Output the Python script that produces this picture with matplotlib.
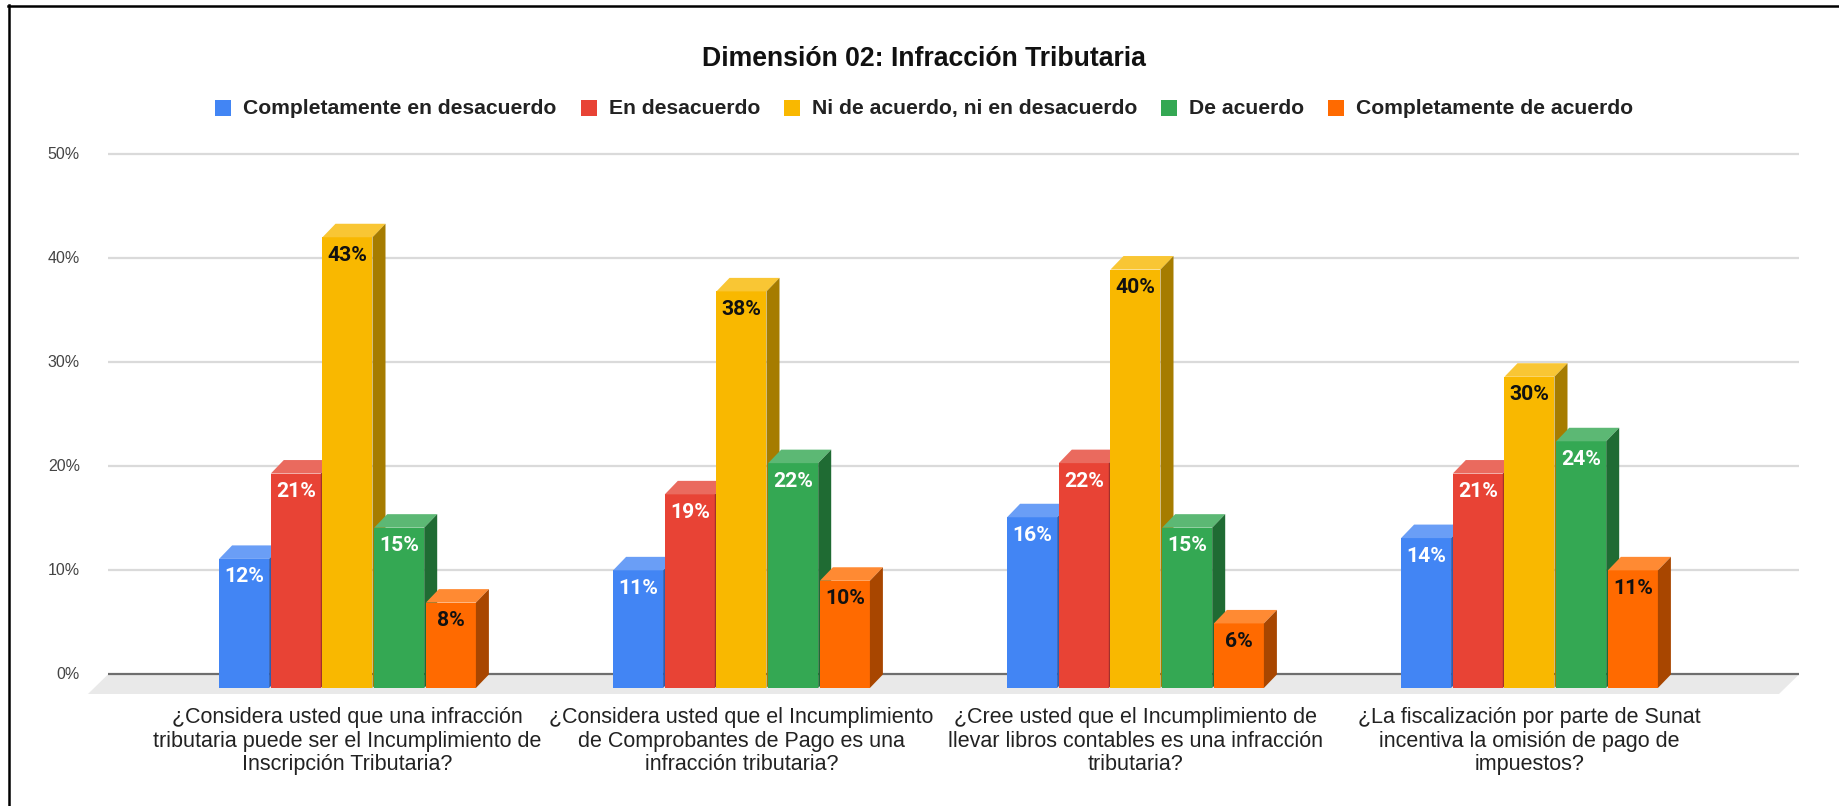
import numpy as np
import matplotlib.pyplot as plt
from matplotlib.patches import Polygon, Rectangle

plt.rcParams['font.family'] = ['Liberation Sans', 'DejaVu Sans']

title = "Dimensión 02: Infracción Tributaria"
series = ["Completamente en desacuerdo", "En desacuerdo",
          "Ni de acuerdo, ni en desacuerdo", "De acuerdo",
          "Completamente de acuerdo"]
questions = [
    "¿Considera usted que una infracción\ntributaria puede ser el Incumplimiento de\nInscripción Tributaria?",
    "¿Considera usted que el Incumplimiento\nde Comprobantes de Pago es una\ninfracción tributaria?",
    "¿Cree usted que el Incumplimiento de\nllevar libros contables es una infracción\ntributaria?",
    "¿La fiscalización por parte de Sunat\nincentiva la omisión de pago de\nimpuestos?",
]
# percentages per question
comp_desacuerdo = [12.4, 11.3, 16.4, 14.4]
en_desacuerdo = [20.6, 18.6, 21.6, 20.6]
ni_ni = [43.3, 38.1, 40.2, 29.9]
de_acuerdo = [15.4, 21.6, 15.4, 23.7]
comp_acuerdo = [8.2, 10.3, 6.2, 11.3]
yticks = [0, 10, 20, 30, 40, 50]

values = [comp_desacuerdo, en_desacuerdo, ni_ni, de_acuerdo, comp_acuerdo]

front_col = ['#4285F4', '#E84335', '#F9B800', '#34A853', '#FF6A00']
top_col = ['#6A9EF6', '#EA6A5E', '#F9C634', '#5CB874', '#FF8A33']
side_col = ['#2E5DAE', '#A3302A', '#A67C00', '#1F6B33', '#A84600']
lab_col = ['white', 'white', '#111111', 'white', '#111111']

W, H = 1840, 806
fig = plt.figure(figsize=(W / 100, H / 100), dpi=100)
fig.patch.set_facecolor('white')

# axes: x in question units (394 px each), y in percent on the back wall
ax = fig.add_axes([71.7 / W, (H - 705.7) / H, (1805.3 - 71.7) / W, (705.7 - 133.2) / H])
ax.set_xlim(-0.7, 3.7)
ax.set_ylim(-3, 52)
ax.axis('off')

px_x = 394.0   # px per question
px_y = 10.41   # px per percent
dx = 13 / px_x     # depth offset
dy = 13.5 / px_y
bw = 50 / px_x
pitch = 51.7 / px_x

wall_l, wall_r = -0.608, 3.684
fdx, fdy = 20 / px_x, 19.5 / px_y

# floor
ax.add_patch(Polygon([(wall_l, 0), (wall_r, 0), (wall_r - fdx, -fdy), (wall_l - fdx, -fdy)],
                     closed=True, facecolor='#e9e9e9', edgecolor='none', zorder=0.5))
ax.hlines(yticks[1:], wall_l, wall_r, color='#dadada', lw=1.6, zorder=0.6)
ax.hlines(0, wall_l, wall_r, color='#6e6e6e', lw=1.6, zorder=0.7)

for t in yticks:
    ax.text((80 - 347.5) / px_x, t, f"{t}%", ha='right', va='center',
            fontsize=11.5, color='#444444')

z = 2.0
for j in range(len(questions)):
    for i, vals in enumerate(values):
        v = vals[j]
        c = j + (i - 2) * pitch
        x0, x1 = c - bw / 2, c + bw / 2
        y0, y1 = -dy, v - dy
        ax.bar(c, v, width=bw, bottom=-dy, color=front_col[i], linewidth=0, zorder=z)
        ax.add_patch(Polygon([(x0, y1), (x1, y1), (x1 + dx, v), (x0 + dx, v)],
                             closed=True, facecolor=top_col[i], edgecolor='none', zorder=z))
        ax.add_patch(Polygon([(x1, y0), (x1 + dx, 0), (x1 + dx, v), (x1, y1)],
                             closed=True, facecolor=side_col[i], edgecolor='none', zorder=z))
        ax.text(c, y1 - 18 / px_y, f"{v:.0f}%", ha='center', va='center',
                fontsize=15.2, fontweight='bold', family=['Roboto', 'DejaVu Sans'],
                color=lab_col[i], zorder=z + 0.005)
        z += 0.01
    ax.text(j, -(707 - 674.5) / px_y, questions[j], ha='center', va='top',
            fontsize=15.5, color='#222222', linespacing=1.17)

# title
fig.text(924.4 / W, (H - 66) / H, title, ha='center', va='baseline',
         fontsize=19.2, fontweight='bold', color='#111111')

# legend, laid out left to right and centred
fig.canvas.draw()
rend = fig.canvas.get_renderer()
sq, gap, sep = 16, 12, 24
texts = []
widths = []
for s in series:
    t = fig.text(0, (H - 114) / H, s, ha='left', va='baseline', fontsize=15.2,
                 fontweight='bold', color='#222222')
    texts.append(t)
    widths.append(t.get_window_extent(rend).width)
total = sum(sq + gap + w for w in widths) + sep * (len(series) - 1)
xpos = 924.4 - total / 2
for k, t in enumerate(texts):
    fig.patches.append(Rectangle((xpos / W, (H - 116) / H), sq / W, sq / H,
                                 transform=fig.transFigure, facecolor=front_col[k],
                                 edgecolor='none'))
    t.set_x((xpos + sq + gap) / W)
    xpos += sq + gap + widths[k] + sep

# screenshot border (left and top)
fig.add_artist(plt.Line2D([8.5 / W, 8.5 / W], [0, (H - 5) / H], color='black', lw=1.8,
                          transform=fig.transFigure))
fig.add_artist(plt.Line2D([7.6 / W, 1], [(H - 6) / H, (H - 6) / H], color='black', lw=1.8,
                          transform=fig.transFigure))

fig.savefig('out.png', dpi=100, facecolor='white')
